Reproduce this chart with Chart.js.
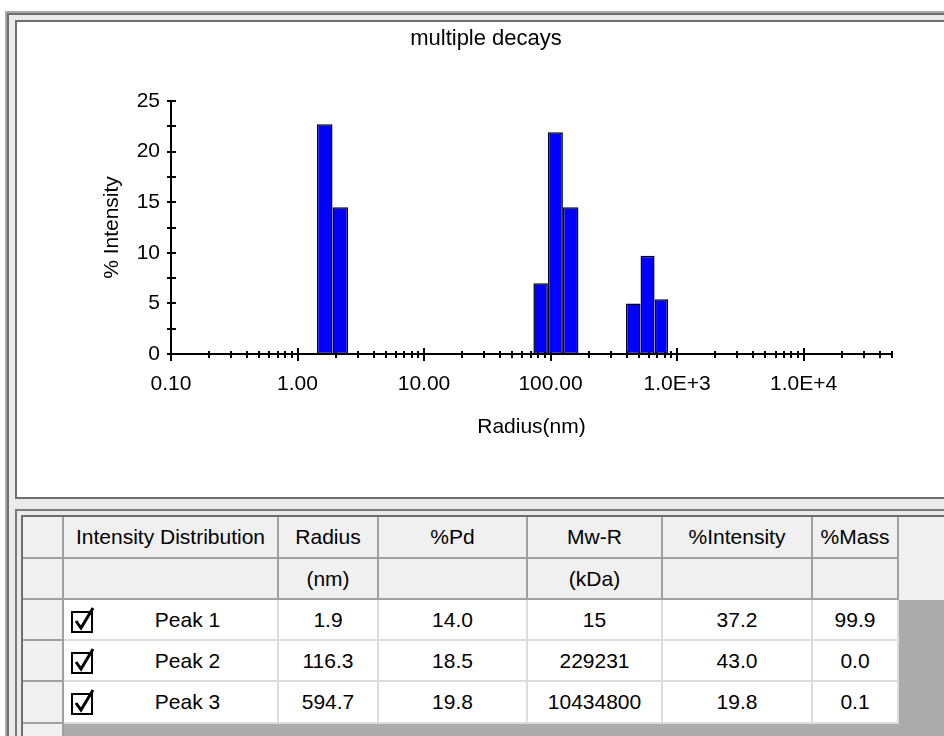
<!DOCTYPE html>
<html>
<head>
<meta charset="utf-8">
<title>multiple decays</title>
<script src="https://cdn.jsdelivr.net/npm/chart.js@4.4.1/dist/chart.umd.min.js"></script>
<style>
    html, body { margin: 0; padding: 0; width: 944px; height: 736px; overflow: hidden; background: #fff; }
    body { font-family: "Liberation Sans", Arial, sans-serif; font-size: 21px; color: #000; }
    .box { position: absolute; box-sizing: border-box; }
    #outer { left: 5px; top: 11px; width: 980px; height: 760px; background: #ebebeb; border-left: 2px solid #a9a9a9; border-top: 2px solid #a9a9a9; box-shadow: inset 2px 2px 0 #6e6e6e; }
    #chartPanel { left: 15px; top: 20px; width: 960px; height: 479px; background: #fff; border: 2px solid #6e6e6e; border-right: none; }
    #chart { position: absolute; left: 17px; top: 22px; }
    #tablePanel { left: 15px; top: 509px; width: 960px; height: 260px; background: #ebebeb; border-left: 2px solid #7a7a7a; border-top: 2px solid #7a7a7a; }
    #tableInner { left: 21px; top: 515px; width: 960px; height: 260px; background: #ababab; border-left: 2px solid #6e6e6e; border-top: 2px solid #6e6e6e; }
    .cell { position: absolute; box-sizing: border-box; display: flex; align-items: center; justify-content: center; white-space: nowrap; border-right: 2px solid #dcdcdc; border-bottom: 2px solid #dcdcdc; background: #fff; }
    .cell.head { background: #f0f0f0; border-color: #a0a0a0; }
    .peak { justify-content: flex-start; padding-left: 34px; }
    .peak span { flex: 1; text-align: center; }
    .peak svg { position: absolute; left: 7px; top: 6px; }
</style>
</head>
<body>
<div class="box" id="outer"></div>
<div class="box" id="chartPanel"></div>
<canvas id="chart" width="927" height="475"></canvas>
<div class="box" id="tablePanel"></div>
<div class="box" id="tableInner"></div>
<div id="grid"></div>
<script>
//---------
//Chart data
//---------

//Peak 1 bins: radius (nm) and % intensity
const PEAK1_RADIUS = [1.64, 2.18];
const PEAK1_INTENSITY = [22.7, 14.5];

//Peak 2 bins
const PEAK2_RADIUS = [83.5, 108.7, 144.2];
const PEAK2_INTENSITY = [7.0, 21.9, 14.5];

//Peak 3 bins
const PEAK3_RADIUS = [450.8, 587.3, 751.1];
const PEAK3_INTENSITY = [5.0, 9.7, 5.4];

//Radius axis: decades and their labels
const RADIUS_DECADES = [0.1, 1, 10, 100, 1000, 10000];
const RADIUS_LABELS = ["0.10", "1.00", "10.00", "100.00", "1.0E+3", "1.0E+4"];
const RADIUS_MIN = 0.1;
const RADIUS_MAX = 50000;

//Intensity axis ticks
const INTENSITY_TICKS = [0, 2.5, 5, 7.5, 10, 12.5, 15, 17.5, 20, 22.5, 25];
const INTENSITY_LABELED = [0, 5, 10, 15, 20, 25];

//---------
//Table data
//---------

const HEAD_ROW1 = ["", "Intensity Distribution", "Radius", "%Pd", "Mw-R", "%Intensity", "%Mass"];
const HEAD_ROW2 = ["", "", "(nm)", "", "(kDa)", "", ""];
const PEAK_NAMES = ["Peak 1", "Peak 2", "Peak 3"];
const PEAK_RADIUS = ["1.9", "116.3", "594.7"];
const PEAK_PD = ["14.0", "18.5", "19.8"];
const PEAK_MW = ["15", "229231", "10434800"];
const PEAK_PCT_INTENSITY = ["37.2", "43.0", "19.8"];
const PEAK_PCT_MASS = ["99.9", "0.0", "0.1"];

//Grid layout (page pixels)
const COLUMN_EDGES = [23, 64, 279, 379, 528, 663, 813, 899];
const ROW_EDGES = [517, 559, 600, 641, 682, 724];

//-----------
//Chart
//-----------

const FONT = "'Liberation Sans', Arial, sans-serif";
Chart.defaults.font.family = FONT;
Chart.defaults.font.size = 21;
Chart.defaults.color = "#000";

//Minor ticks for every decade (2..9 x decade) up to the axis end
const radiusTicks = [];
RADIUS_DECADES.forEach(d => {
    radiusTicks.push({ value: d, major: true });
    for (let m = 2; m <= 9; m++) if (d * m <= RADIUS_MAX) radiusTicks.push({ value: d * m, major: false });
});

const makeBins = (radius, intensity) => radius.map((r, i) => ({ x: r, y: intensity[i] }));

const binDataset = (radius, intensity) => ({
    data: makeBins(radius, intensity),
    stack: "bins",
    barThickness: "flex",
    categoryPercentage: 1,
    barPercentage: 1,
    backgroundColor: "#0000ff",
    borderColor: "#000",
    borderWidth: 1.5,
    borderSkipped: false,
    inflateAmount: 0
});

//Crossing tick marks on both axes
const axisTicks = {
    id: "axisTicks",
    beforeDatasetsDraw(chart) {
        const { ctx, scales: { x, y } } = chart;
        const x0 = x.left;
        const y0 = y.getPixelForValue(0);
        ctx.save();
        ctx.strokeStyle = "#000";
        ctx.lineWidth = 2;
        ctx.beginPath();
        x.ticks.forEach(t => {
            const px = Math.round(x.getPixelForValue(t.value));
            const h = t.major ? 6 : 3;
            ctx.moveTo(px, y0 - h);
            ctx.lineTo(px, y0 + h + 1);
        });
        y.ticks.forEach(t => {
            const py = Math.round(y.getPixelForValue(t.value));
            ctx.moveTo(x0 - 4, py);
            ctx.lineTo(x0 + 5, py);
        });
        ctx.stroke();
        ctx.restore();
    }
};

new Chart(document.getElementById("chart"), {
    type: "bar",
    data: {
        datasets: [
            binDataset(PEAK1_RADIUS, PEAK1_INTENSITY),
            binDataset(PEAK2_RADIUS, PEAK2_INTENSITY),
            binDataset(PEAK3_RADIUS, PEAK3_INTENSITY)
        ]
    },
    options: {
        responsive: false,
        animation: false,
        devicePixelRatio: 1,
        layout: { padding: { left: 63, right: 52, top: 0, bottom: 0 } },
        plugins: {
            legend: { display: false },
            tooltip: { enabled: false },
            title: {
                display: true,
                text: "multiple decays",
                font: { size: 22, weight: "normal" },
                color: "#000",
                padding: { top: 4, bottom: 48.6 }
            }
        },
        scales: {
            x: {
                type: "logarithmic",
                min: RADIUS_MIN,
                max: RADIUS_MAX,
                offset: false,
                stacked: true,
                grid: { display: false, drawTicks: false },
                border: { display: true, color: "#000", width: 2 },
                afterBuildTicks: scale => {
                    scale.ticks = radiusTicks.map(t => ({ ...t }));
                },
                afterFit: scale => {
                    scale.height = 143;
                },
                ticks: {
                    autoSkip: false,
                    maxRotation: 0,
                    minRotation: 0,
                    padding: 18,
                    callback: value => {
                        const i = RADIUS_DECADES.findIndex(d => Math.abs(d - value) < d * 1e-6);
                        return i >= 0 ? RADIUS_LABELS[i] : "";
                    }
                },
                title: {
                    display: true,
                    text: "Radius(nm)",
                    padding: { top: 0, bottom: 57 }
                }
            },
            y: {
                type: "linear",
                min: 0,
                max: 25,
                stacked: false,
                grid: { display: false, drawTicks: false },
                border: { display: true, color: "#000", width: 2 },
                afterBuildTicks: scale => {
                    scale.ticks = INTENSITY_TICKS.map(v => ({ value: v }));
                },
                afterFit: scale => {
                    scale.width = 91;
                },
                ticks: {
                    autoSkip: false,
                    padding: 11,
                    callback: value => (INTENSITY_LABELED.includes(value) ? String(value) : "")
                },
                title: {
                    display: true,
                    text: "% Intensity",
                    padding: { top: 20, bottom: 0 }
                }
            }
        }
    },
    plugins: [axisTicks]
});

//-----------
//Table
//-----------

const grid = document.getElementById("grid");

const CHECK_SVG =
    '<svg width="26" height="28" viewBox="0 0 26 28"><rect x="1" y="6" width="20" height="20" fill="#fff" stroke="#000" stroke-width="2"/>' +
    '<polyline points="5,15 10,22 22,2" fill="none" stroke="#000" stroke-width="3"/></svg>';

const addCell = (col, row, html, cls) => {
    const el = document.createElement("div");
    el.className = "cell" + (cls ? " " + cls : "");
    el.style.left = COLUMN_EDGES[col] + "px";
    el.style.top = ROW_EDGES[row] + "px";
    el.style.width = COLUMN_EDGES[col + 1] - COLUMN_EDGES[col] + "px";
    el.style.height = ROW_EDGES[row + 1] - ROW_EDGES[row] + "px";
    el.innerHTML = html;
    grid.appendChild(el);
};

//Header band to the right of the last column
const band = document.createElement("div");
band.className = "box";
band.style.cssText = `left:${COLUMN_EDGES[7]}px;top:${ROW_EDGES[0]}px;width:60px;height:${ROW_EDGES[2] - ROW_EDGES[0]}px;background:#f0f0f0;`;
grid.appendChild(band);

//Row header column below the rows
const rowHeadTail = document.createElement("div");
rowHeadTail.className = "box";
rowHeadTail.style.cssText = `left:${COLUMN_EDGES[0]}px;top:${ROW_EDGES[5]}px;width:${COLUMN_EDGES[1] - COLUMN_EDGES[0]}px;height:40px;background:#f0f0f0;border-right:2px solid #a0a0a0;`;
grid.appendChild(rowHeadTail);

HEAD_ROW1.forEach((t, c) => addCell(c, 0, t, "head"));
HEAD_ROW2.forEach((t, c) => addCell(c, 1, t, "head"));

PEAK_NAMES.forEach((name, r) => {
    const row = r + 2;
    addCell(0, row, "", "head");
    addCell(1, row, CHECK_SVG + "<span>" + name + "</span>", "peak");
    addCell(2, row, PEAK_RADIUS[r]);
    addCell(3, row, PEAK_PD[r]);
    addCell(4, row, PEAK_MW[r]);
    addCell(5, row, PEAK_PCT_INTENSITY[r]);
    addCell(6, row, PEAK_PCT_MASS[r]);
});
</script>
</body>
</html>
